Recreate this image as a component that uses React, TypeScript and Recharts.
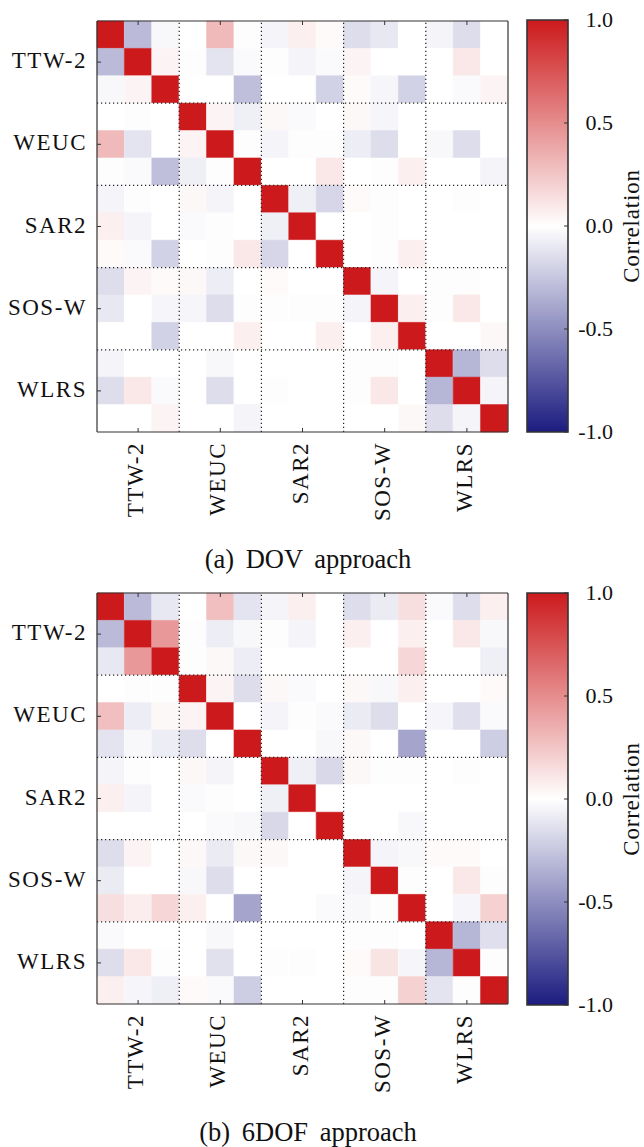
import { BarChart, Bar, XAxis, YAxis, Cell, ReferenceLine } from 'recharts'

const GROUPS = ['TTW-2', 'WEUC', 'SAR2', 'SOS-W', 'WLRS']
const COLS = ['c0', 'c1', 'c2', 'c3', 'c4', 'c5', 'c6', 'c7', 'c8', 'c9', 'c10', 'c11', 'c12', 'c13', 'c14']
const ROWS = ['r0', 'r1', 'r2', 'r3', 'r4', 'r5', 'r6', 'r7', 'r8', 'r9', 'r10', 'r11', 'r12', 'r13', 'r14']
const CENTER_COLS = ['c1', 'c4', 'c7', 'c10', 'c13']
const EDGE_COLS = ['c3', 'c6', 'c9', 'c12']
const GROUP_TICKS = [1.5, 4.5, 7.5, 10.5, 13.5]
const GROUP_EDGES = [3, 6, 9, 12]
const CB_TICKS = [1, 0.5, 0, -0.5, -1]
const CB_LABELS = ['1.0', '0.5', '0.0', '-0.5', '-1.0']

// correlation matrices, row by row
const DOV_CORR = [
  [1, -0.3, -0.03, 0, 0.3, 0.01, -0.05, 0.07, 0.02, -0.15, -0.1, 0, -0.05, -0.15, 0],
  [-0.3, 1, 0.05, 0.01, -0.12, -0.02, 0.01, -0.05, -0.02, 0.05, 0, 0, 0, 0.1, 0],
  [-0.03, 0.05, 1, 0, 0, -0.28, 0, 0, -0.2, 0.02, -0.04, -0.2, 0, -0.02, 0.05],
  [0, 0.01, 0, 1, 0.05, -0.07, 0.03, -0.02, 0, 0.03, -0.04, 0, 0, 0, 0],
  [0.3, -0.12, 0, 0.05, 1, 0.01, -0.05, 0.01, 0.01, -0.08, -0.15, 0, -0.03, -0.15, 0],
  [0.01, -0.02, -0.28, -0.07, 0.01, 1, 0, 0, 0.1, 0, 0.01, 0.07, 0, 0, -0.05],
  [-0.05, 0.01, 0, 0.03, -0.05, 0, 1, -0.07, -0.18, 0.02, 0.01, 0, 0, 0.01, 0],
  [0.07, -0.05, 0, -0.02, 0.01, 0, -0.07, 1, 0, 0, 0.01, 0, 0, 0, 0],
  [0.02, -0.02, -0.2, 0, 0.01, 0.1, -0.18, 0, 1, 0, 0.01, 0.07, 0, 0, 0],
  [-0.15, 0.05, 0.02, 0.03, -0.08, 0, 0.02, 0, 0, 1, -0.05, 0, 0.01, 0.01, 0],
  [-0.1, 0, -0.04, -0.04, -0.15, 0.01, 0.01, 0.01, 0.01, -0.05, 1, 0.07, 0.01, 0.1, 0],
  [0, 0, -0.2, 0, 0, 0.07, 0, 0, 0.07, 0, 0.07, 1, 0, 0, 0.03],
  [-0.05, 0, 0, 0, -0.03, 0, 0, 0, 0, 0.01, 0.01, 0, 1, -0.32, -0.15],
  [-0.15, 0.1, -0.02, 0, -0.15, 0, 0.01, 0, 0, 0.01, 0.1, 0, -0.32, 1, -0.05],
  [0, 0, 0.05, 0, 0, -0.05, 0, 0, 0, 0, 0, 0.03, -0.15, -0.05, 1],
]

const SIXDOF_CORR = [
  [1, -0.3, -0.1, 0, 0.28, -0.12, -0.05, 0.07, 0, -0.15, -0.09, 0.14, -0.02, -0.15, 0.07],
  [-0.3, 1, 0.45, 0.01, -0.08, -0.03, 0.01, -0.05, 0, 0.07, 0, 0.07, 0, 0.1, -0.03],
  [-0.1, 0.45, 1, 0.01, 0.03, -0.08, 0, 0, 0, 0, 0, 0.18, 0, 0, -0.07],
  [0, 0.01, 0.01, 1, 0.05, -0.15, 0.03, -0.02, 0, 0.03, -0.03, 0.07, 0, 0, 0.02],
  [0.28, -0.08, 0.03, 0.05, 1, 0, -0.05, 0.01, -0.02, -0.09, -0.15, 0, -0.04, -0.14, -0.02],
  [-0.12, -0.03, -0.08, -0.15, 0, 1, 0, 0, -0.03, 0.03, 0, -0.4, 0, 0, -0.22],
  [-0.05, 0.01, 0, 0.03, -0.05, 0, 1, -0.07, -0.17, 0.03, 0.01, 0.01, 0, 0.01, 0],
  [0.07, -0.05, 0, -0.02, 0.01, 0, -0.07, 1, 0, 0, 0, 0, 0, 0, 0],
  [0, 0, 0, 0, -0.02, -0.03, -0.17, 0, 1, 0, 0, -0.03, 0, 0, 0],
  [-0.15, 0.05, 0, 0.03, -0.09, 0.03, 0.03, 0, 0, 1, -0.05, -0.03, 0.02, 0.02, 0],
  [-0.09, 0, 0, -0.03, -0.15, 0, 0, 0, 0, -0.05, 1, 0.01, 0, 0.1, 0.01],
  [0.14, 0.08, 0.18, 0.07, 0, -0.4, 0, 0, -0.02, -0.03, 0.01, 1, 0, -0.04, 0.2],
  [-0.02, 0, 0, 0, -0.03, 0, 0, 0, 0, 0.01, 0.01, 0, 1, -0.32, -0.14],
  [-0.15, 0.1, -0.01, 0, -0.13, 0, 0.01, -0.01, 0, 0.02, 0.12, -0.04, -0.32, 1, -0.01],
  [0.07, -0.04, -0.07, 0.02, -0.02, -0.22, 0, 0, 0, 0.01, 0.01, 0.2, -0.12, -0.01, 1],
]

const FONT = '"Liberation Serif", "Times New Roman", serif'
const FRAME = '#333'
const RED = [204, 26, 28]
const NAVY = [28, 28, 128]

function cmap(v: number) {
  const t = Math.min(1, Math.abs(v))
  const end = v >= 0 ? RED : NAVY
  const c = end.map((e) => Math.round(255 + (e - 255) * t))
  return `rgb(${c[0]},${c[1]},${c[2]})`
}

const labelFor = (col: string) => GROUPS[CENTER_COLS.indexOf(col)]

function BottomTick(p: any) {
  const lab = labelFor(p.payload?.value)
  if (!lab) return <g />
  return (
    <g>
      <line x1={p.x} y1={p.y} x2={p.x} y2={p.y - 4} stroke={FRAME} strokeWidth={1} />
      <text
        transform={`translate(${p.x + 5},${p.y + 10}) rotate(-90)`}
        textAnchor="end"
        fontFamily={FONT}
        fontSize={23}
        letterSpacing={1.5}
        fill="#111"
      >
        {lab}
      </text>
    </g>
  )
}

function TopTick(p: any) {
  if (!labelFor(p.payload?.value)) return <g />
  return <line x1={p.x} y1={p.y} x2={p.x} y2={p.y + 4} stroke={FRAME} strokeWidth={1} />
}

function LeftTick(p: any) {
  const lab = GROUPS[GROUP_TICKS.indexOf(p.payload?.value)]
  return (
    <g>
      <line x1={p.x} y1={p.y} x2={p.x + 4} y2={p.y} stroke={FRAME} strokeWidth={1} />
      <text x={p.x - 10} y={p.y + 6} textAnchor="end" fontFamily={FONT} fontSize={23} letterSpacing={1.5} fill="#111">
        {lab}
      </text>
    </g>
  )
}

function RightTick(p: any) {
  return <line x1={p.x} y1={p.y} x2={p.x - 4} y2={p.y} stroke={FRAME} strokeWidth={1} />
}

function CbTick(p: any) {
  const lab = CB_LABELS[CB_TICKS.indexOf(p.payload?.value)]
  return (
    <g>
      <line x1={p.x} y1={p.y} x2={p.x - 4} y2={p.y} stroke={FRAME} strokeWidth={1} />
      <text x={p.x + 45} y={p.y + 7} textAnchor="end" fontFamily={FONT} fontSize={22} fill="#111">
        {lab}
      </text>
    </g>
  )
}

function Heatmap({ corr }: { corr: number[][] }) {
  const data = COLS.map((col) => {
    const d: Record<string, string | number> = { col }
    ROWS.forEach((r) => (d[r] = 1))
    return d
  })
  const axisLine = { stroke: FRAME, strokeWidth: 1.2 }

  return (
    <BarChart width={520} height={532} data={data} margin={{ top: 20, right: 11, left: 0, bottom: 0 }} barCategoryGap={0} barGap={0}>
      <XAxis xAxisId="b" dataKey="col" orientation="bottom" height={100} interval={0} tickSize={0} tickMargin={0} tickLine={false} axisLine={axisLine} tick={(p: any) => <BottomTick {...p} />} />
      <XAxis xAxisId="t" dataKey="col" orientation="top" height={1} interval={0} tickSize={0} tickMargin={0} tickLine={false} axisLine={axisLine} tick={(p: any) => <TopTick {...p} />} />
      <YAxis yAxisId="l" type="number" domain={[0, 15]} reversed ticks={GROUP_TICKS} interval={0} width={97} tickSize={0} tickMargin={0} tickLine={false} axisLine={axisLine} tick={(p: any) => <LeftTick {...p} />} />
      <YAxis yAxisId="r" orientation="right" type="number" domain={[0, 15]} reversed ticks={GROUP_TICKS} interval={0} width={1} tickSize={0} tickMargin={0} tickLine={false} axisLine={axisLine} tick={(p: any) => <RightTick {...p} />} />
      {ROWS.map((rid, r) => (
        <Bar key={rid} dataKey={rid} stackId="m" xAxisId="b" yAxisId="l" isAnimationActive={false}>
          {COLS.map((cid, c) => (
            <Cell key={cid} fill={cmap(corr[r][c])} stroke={cmap(corr[r][c])} strokeWidth={0.6} />
          ))}
        </Bar>
      ))}
      {EDGE_COLS.map((e) => (
        <ReferenceLine key={`v${e}`} x={e} position="start" xAxisId="b" yAxisId="l" stroke="#222" strokeWidth={1.2} strokeDasharray="1.2 2.8" />
      ))}
      {GROUP_EDGES.map((e) => (
        <ReferenceLine key={`h${e}`} y={e} xAxisId="b" yAxisId="l" stroke="#222" strokeWidth={1.2} strokeDasharray="1.2 2.8" />
      ))}
    </BarChart>
  )
}

const CB_DATA = [{ name: 'Correlation', span: [-1, 1] }]

function ColorBar({ id }: { id: string }) {
  return (
    <BarChart width={124} height={460} data={CB_DATA} margin={{ top: 20, right: 0, left: 7, bottom: 28 }} barCategoryGap={0}>
      <defs>
        <linearGradient id={id} x1="0" y1="0" x2="0" y2="1">
          <stop offset="0%" stopColor={cmap(1)} />
          <stop offset="50%" stopColor="#ffffff" />
          <stop offset="100%" stopColor={cmap(-1)} />
        </linearGradient>
      </defs>
      <XAxis dataKey="name" hide />
      <YAxis type="number" orientation="right" domain={[-1, 1]} ticks={CB_TICKS} interval={0} width={76} tickSize={0} tickMargin={0} tickLine={false} axisLine={false} tick={(p: any) => <CbTick {...p} />} />
      <Bar dataKey="span" fill={`url(#${id})`} stroke={FRAME} strokeWidth={1.6} isAnimationActive={false} />
    </BarChart>
  )
}

const CAPTIONS = ['(a) DOV approach', '(b) 6DOF approach']

export default function App() {
  return (
    <div style={{ position: 'absolute', left: 0, top: 0, width: 644, height: 1147, background: '#fff' }}>
      <div style={{ position: 'absolute', left: 0, top: 0 }}>
        <Heatmap corr={DOV_CORR} />
      </div>
      <div style={{ position: 'absolute', left: 520, top: 0 }}>
        <ColorBar id="cbA" />
      </div>
      <div style={{ position: 'absolute', left: 0, top: 572 }}>
        <Heatmap corr={SIXDOF_CORR} />
      </div>
      <div style={{ position: 'absolute', left: 520, top: 573 }}>
        <ColorBar id="cbB" />
      </div>
      <svg width={644} height={1147} style={{ position: 'absolute', left: 0, top: 0, pointerEvents: 'none' }}>
        {[226, 799].map((cy) => (
          <text key={cy} transform={`translate(639,${cy}) rotate(-90)`} textAnchor="middle" fontFamily={FONT} fontSize={23} letterSpacing={0.8} fill="#111">
            Correlation
          </text>
        ))}
        <text x={308} y={568} textAnchor="middle" fontFamily={FONT} fontSize={26.5} wordSpacing={5} fill="#111">
          {CAPTIONS[0]}
        </text>
        <text x={308} y={1141} textAnchor="middle" fontFamily={FONT} fontSize={26.5} wordSpacing={5} fill="#111">
          {CAPTIONS[1]}
        </text>
      </svg>
    </div>
  )
}
